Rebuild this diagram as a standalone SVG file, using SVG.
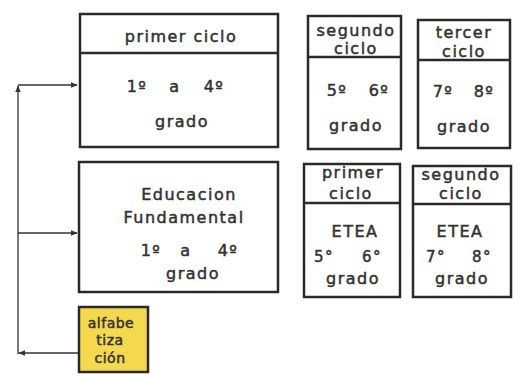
<svg xmlns="http://www.w3.org/2000/svg" width="525" height="376" viewBox="0 0 525 376">
<style>
.box{fill:#fff;stroke:#2a2a2a;stroke-width:2.5}
.yel{fill:#f4d94f;stroke:#2a2a2a;stroke-width:2.5}
.div{stroke:#2a2a2a;stroke-width:2.5}
.t{font-family:"DejaVu Sans",sans-serif;font-size:16px;fill:#333;stroke:#333;stroke-width:0.5;text-anchor:middle;letter-spacing:1.5px}
.s{font-size:14px;letter-spacing:0.5px}
.n{font-size:15px}
.c{stroke:#333;stroke-width:1.3;fill:none}
</style>
<defs>
<marker id="ah" viewBox="0 0 10 10" refX="9" refY="5" markerWidth="7" markerHeight="7" orient="auto-start-reverse" markerUnits="userSpaceOnUse">
<path d="M0,1 L10,5 L0,9 Z" fill="#333"/>
</marker>
</defs>
<g id="connectors">
<path class="c" d="M18,354 V86" marker-end="url(#ah)"/>
<path class="c" d="M18,85 H77" marker-end="url(#ah)"/>
<path class="c" d="M18,233 H77" marker-end="url(#ah)"/>
<path class="c" d="M78,353 H19" marker-end="url(#ah)"/>
</g>
<g id="primer-ciclo">
<rect class="box" x="80" y="14" width="198" height="133"/>
<line class="div" x1="80" y1="53" x2="278" y2="53"/>
<text class="t" x="181" y="42">primer ciclo</text>
<text class="t" x="137" y="92">1º</text>
<text class="t" x="175" y="92">a</text>
<text class="t" x="214" y="92">4º</text>
<text class="t" x="182" y="127">grado</text>
</g>
<g id="segundo-ciclo">
<rect class="box" x="308" y="16" width="93" height="133"/>
<line class="div" x1="308" y1="57" x2="401" y2="57"/>
<text class="t" x="356" y="36">segundo</text>
<text class="t" x="356" y="54">ciclo</text>
<text class="t" x="337" y="96">5º</text>
<text class="t" x="379" y="96">6º</text>
<text class="t" x="356" y="131">grado</text>
</g>
<g id="tercer-ciclo">
<rect class="box" x="418" y="20" width="92" height="128"/>
<line class="div" x1="418" y1="60" x2="510" y2="60"/>
<text class="t" x="464" y="38">tercer</text>
<text class="t" x="464" y="57">ciclo</text>
<text class="t" x="443" y="97">7º</text>
<text class="t" x="484" y="97">8º</text>
<text class="t" x="464" y="132">grado</text>
</g>
<g id="educacion-fundamental">
<rect class="box" x="79" y="162" width="199" height="130"/>
<text class="t" x="189" y="200">Educacion</text>
<text class="t" x="184" y="223">Fundamental</text>
<text class="t" x="151" y="256">1º</text>
<text class="t" x="186" y="256">a</text>
<text class="t" x="228" y="256">4º</text>
<text class="t" x="193" y="279">grado</text>
</g>
<g id="primer-ciclo-etea">
<rect class="box" x="304" y="164" width="96" height="133"/>
<line class="div" x1="304" y1="203" x2="400" y2="203"/>
<text class="t" x="353" y="178">primer</text>
<text class="t" x="351" y="199">ciclo</text>
<text class="t" x="355" y="237">ETEA</text>
<text class="t n" x="324" y="262">5°</text>
<text class="t n" x="372" y="262">6°</text>
<text class="t" x="353" y="284">grado</text>
</g>
<g id="segundo-ciclo-etea">
<rect class="box" x="413" y="166" width="98" height="131"/>
<line class="div" x1="413" y1="204" x2="511" y2="204"/>
<text class="t" x="461" y="180">segundo</text>
<text class="t" x="461" y="199">ciclo</text>
<text class="t" x="460" y="237">ETEA</text>
<text class="t n" x="436" y="262">7°</text>
<text class="t n" x="482" y="262">8°</text>
<text class="t" x="462" y="284">grado</text>
</g>
<g id="alfabetizacion">
<rect class="yel" x="79" y="307" width="69" height="65"/>
<text class="t s" x="111" y="328">alfabe</text>
<text class="t s" x="110" y="345">tiza</text>
<text class="t s" x="110" y="363">ción</text>
</g>
</svg>
